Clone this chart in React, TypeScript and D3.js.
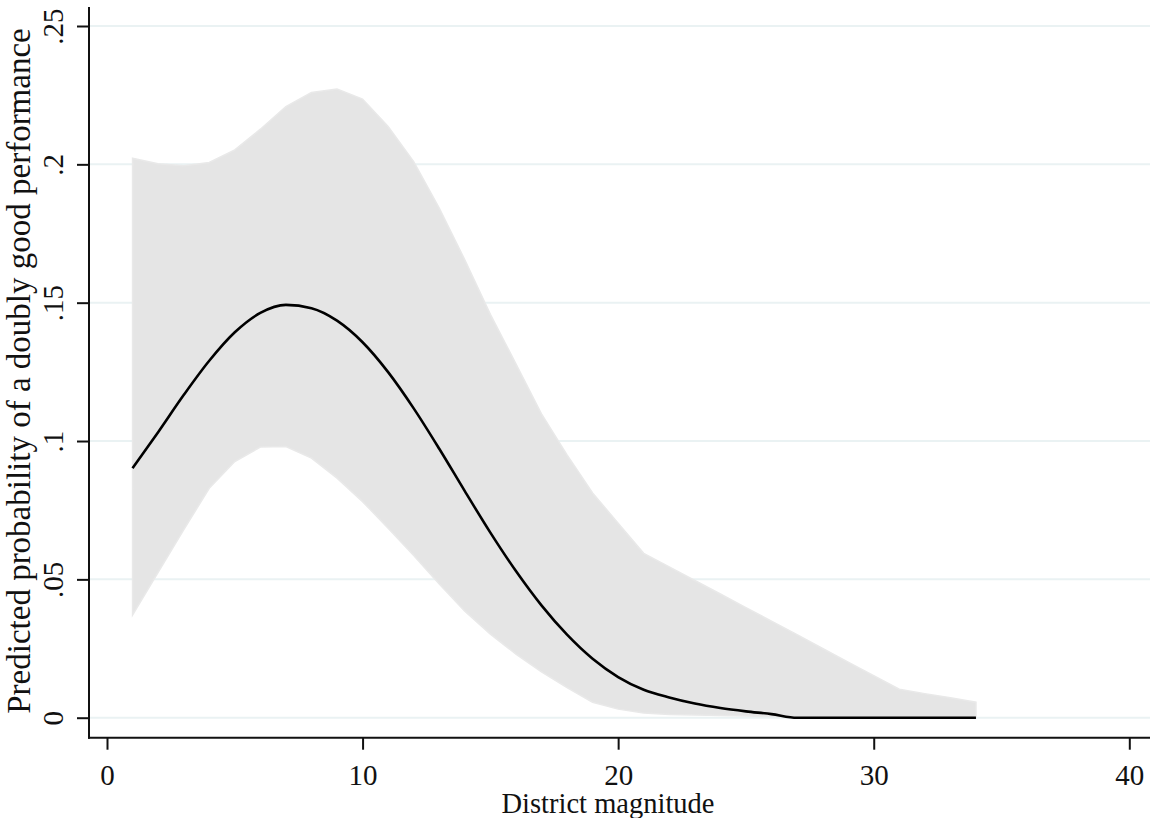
import { useRef, useEffect } from 'react';
import * as d3 from 'd3';

// district magnitude values the predictions were computed at
const magnitude = [1, 2, 3, 4, 5, 6, 7, 8, 9, 10, 11, 12, 13, 14, 15, 16, 17,
  18, 19, 20, 21, 22, 23, 24, 25, 26, 27, 28, 29, 30, 31, 32, 33, 34];

// predicted probability (point estimate)
const predicted = [0.0902, 0.1032, 0.1166, 0.1290, 0.1393, 0.1463, 0.1492, 0.1480,
  0.1435, 0.1357, 0.1249, 0.1118, 0.0972, 0.0819, 0.0669, 0.0530, 0.0406, 0.0300,
  0.0213, 0.0147, 0.0101, 0.0073, 0.0051, 0.0035, 0.0023, 0.0013, 0.0, 0.0,
  0.0, 0.0, 0.0, 0.0, 0.0, 0.0];

// confidence band
const upper = [0.2022, 0.2002, 0.1995, 0.2007, 0.2052, 0.2127, 0.2209, 0.2260,
  0.2272, 0.2236, 0.2137, 0.2010, 0.1842, 0.1655, 0.1458, 0.1279, 0.1098, 0.0950,
  0.0812, 0.0703, 0.0594, 0.0545, 0.0496, 0.0447, 0.0398, 0.0349, 0.0300, 0.0250,
  0.0201, 0.0152, 0.0103, 0.0087, 0.0072, 0.0056];

const lower = [0.0371, 0.0525, 0.0679, 0.0829, 0.0926, 0.0978, 0.0980, 0.0938,
  0.0866, 0.0781, 0.0685, 0.0586, 0.0483, 0.0385, 0.0302, 0.0230, 0.0166, 0.0109,
  0.0056, 0.0031, 0.0017, 0.0012, 0.0010, 0.0008, 0.0006, 0.0004, 0.0002, 0.0,
  0.0, 0.0, 0.0, 0.0, 0.0, 0.0];

const xTicks = [0, 10, 20, 30, 40];
const yTicks = [0, 0.05, 0.1, 0.15, 0.2, 0.25];
const yTickLabels = ['0', '.05', '.1', '.15', '.2', '.25'];

const FONT = '"Liberation Serif", "Times New Roman", serif';

const App = () => {
  const svgRef = useRef<SVGSVGElement>(null);

  useEffect(() => {
    const svg = d3.select(svgRef.current);
    svg.selectAll('*').remove();

    const width = 1150;
    const axisX = 89;
    const axisY = 737.7;

    const x = d3.scaleLinear().domain([0, 40]).range([107, 1129.3]);
    const y = d3.scaleLinear().domain([0, 0.25]).range([717.7, 26]);

    const rows = magnitude.map((m, i) => ({
      m, p: predicted[i], hi: upper[i], lo: lower[i],
    }));

    // grid
    svg.append('g')
      .selectAll('line')
      .data(yTicks)
      .join('line')
      .attr('x1', axisX)
      .attr('x2', width)
      .attr('y1', d => y(d))
      .attr('y2', d => y(d))
      .attr('stroke', '#eaf2f3')
      .attr('stroke-width', 2);

    // band
    const area = d3.area<any>()
      .x(d => x(d.m))
      .y0(d => y(d.lo))
      .y1(d => y(d.hi));

    svg.append('path')
      .datum(rows)
      .attr('d', area)
      .attr('fill', '#e5e5e5')
      .attr('stroke', '#e9e9e9')
      .attr('stroke-width', 1.5);

    // estimate
    const line = d3.line<any>()
      .x(d => x(d.m))
      .y(d => y(d.p))
      .curve(d3.curveMonotoneX);

    svg.append('path')
      .datum(rows)
      .attr('d', line)
      .attr('fill', 'none')
      .attr('stroke', '#000')
      .attr('stroke-width', 2.6);

    // axes
    const xAxis = svg.append('g')
      .attr('transform', `translate(0,${axisY})`)
      .call(d3.axisBottom(x).tickValues(xTicks).tickSize(12).tickFormat(d3.format('d')));
    xAxis.select('.domain').remove();
    xAxis.selectAll('line').attr('stroke', '#111').attr('stroke-width', 2);
    xAxis.selectAll('text')
      .attr('y', 47.3)
      .attr('dy', 0)
      .attr('fill', '#111')
      .style('font-family', FONT)
      .style('font-size', '29px');

    const yAxis = svg.append('g')
      .attr('transform', `translate(${axisX},0)`)
      .call(d3.axisLeft(y).tickValues(yTicks).tickSize(12)
        .tickFormat((_, i) => yTickLabels[i]));
    yAxis.select('.domain').remove();
    yAxis.selectAll('line').attr('stroke', '#111').attr('stroke-width', 2);
    yAxis.selectAll('text')
      .attr('transform', 'rotate(-90)')
      .attr('x', 0)
      .attr('y', -26)
      .attr('dy', 0)
      .attr('text-anchor', 'middle')
      .attr('fill', '#111')
      .style('font-family', FONT)
      .style('font-size', '29px');

    svg.append('line')
      .attr('x1', axisX).attr('x2', axisX)
      .attr('y1', 7).attr('y2', axisY + 1)
      .attr('stroke', '#111').attr('stroke-width', 2);
    svg.append('line')
      .attr('x1', axisX - 1).attr('x2', width)
      .attr('y1', axisY).attr('y2', axisY)
      .attr('stroke', '#111').attr('stroke-width', 2);

    // titles
    svg.append('text')
      .attr('x', 608)
      .attr('y', 813)
      .attr('text-anchor', 'middle')
      .attr('fill', '#111')
      .style('font-family', FONT)
      .style('font-size', '28.5px')
      .text('District magnitude');

    svg.append('text')
      .attr('transform', 'translate(30,371) rotate(-90)')
      .attr('text-anchor', 'middle')
      .attr('fill', '#111')
      .style('font-family', FONT)
      .style('font-size', '33px')
      .text('Predicted probability of a doubly good performance');
  }, []);

  return (
    <svg
      ref={svgRef}
      width="1150"
      height="818"
      style={{ position: 'absolute', left: 0, top: 0, background: '#fff' }}
    />
  );
};

export default App;
